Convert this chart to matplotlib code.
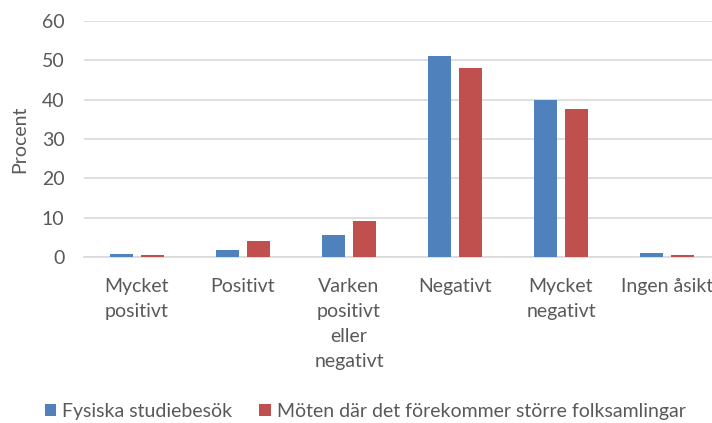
import matplotlib
matplotlib.use('Agg')
import matplotlib.pyplot as plt
import numpy as np

# data
categories = ['Mycket\npositivt', 'Positivt', 'Varken\npositivt\neller\nnegativt',
              'Negativt', 'Mycket\nnegativt', 'Ingen åsikt']
fysiska = [0.8, 1.8, 5.6, 51.0, 39.8, 0.9]
moten = [0.4, 4.1, 9.2, 48.0, 37.7, 0.5]
series_names = ['Fysiska studiebesök', 'Möten där det förekommer större folksamlingar']

plt.rcParams['font.family'] = ['Lato', 'DejaVu Sans']
txt = '#595959'
fs = 14

fig = plt.figure(figsize=(7.12, 4.23), dpi=100)
ax = fig.add_axes([84/712, 1-257/423, (720-84)/712, (257-21)/423])

x = np.arange(len(categories))
w = 0.217
off = 0.144
b1 = ax.bar(x-off, fysiska, w, color='#4f81bd', zorder=3)
b2 = ax.bar(x+off, moten, w, color='#c0504d', zorder=3)

ax.set_xlim(-0.5, len(categories)-0.5)
ax.set_ylim(0, 60)
ax.set_yticks(range(0, 61, 10))
ax.yaxis.grid(True, color='#d9d9d9', linewidth=1.2, zorder=0)
ax.set_axisbelow(True)
for s in ['top', 'right', 'left']:
	ax.spines[s].set_visible(False)
ax.spines['bottom'].set_color('#d9d9d9')
ax.spines['bottom'].set_linewidth(1.2)

ax.set_xticks(x)
ax.set_xticklabels(categories, linespacing=1.58, multialignment='center')
ax.tick_params(axis='both', length=0, labelsize=fs, labelcolor=txt)
ax.tick_params(axis='x', pad=15)
ax.tick_params(axis='y', pad=14)
ax.set_ylabel('Procent', fontsize=fs, color=txt, labelpad=10)

leg = fig.legend([b1, b2], series_names, loc='center', bbox_to_anchor=(0.513, 0.028),
	ncol=2, frameon=False, fontsize=fs, handlelength=0.6, handleheight=0.6,
	handletextpad=0.3, columnspacing=1.4)
for t in leg.get_texts():
	t.set_color(txt)

plt.savefig('out.png', dpi=100)
plt.close()
